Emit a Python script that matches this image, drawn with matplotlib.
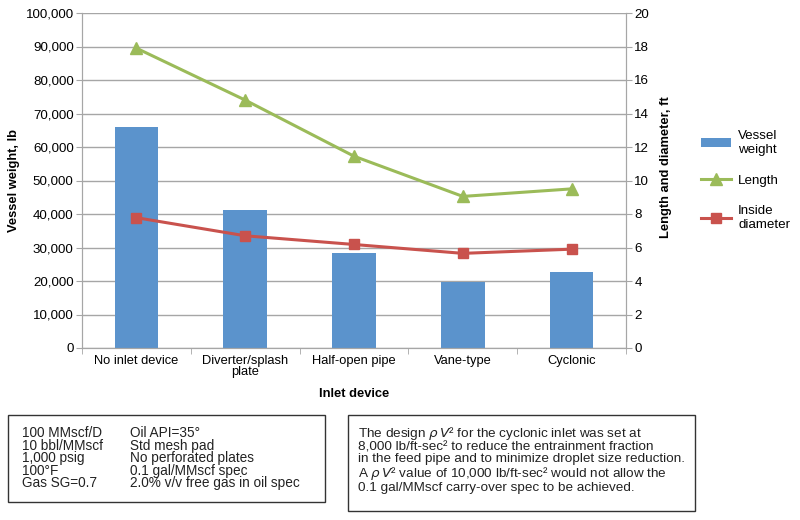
import numpy as np
import matplotlib.pyplot as plt
from matplotlib.patches import Rectangle

plt.rcParams['font.family'] = ['Liberation Sans', 'DejaVu Sans']

# --------------------------
# Data
# --------------------------
devices = ['No inlet device', 'Diverter/splash\nplate', 'Half-open pipe', 'Vane-type', 'Cyclonic']
vessel_weight = [66000, 41200, 28500, 19800, 22700]   # lb
length_ft = [17.9, 14.8, 11.45, 9.05, 9.5]            # ft
diameter_ft = [7.78, 6.7, 6.18, 5.65, 5.9]            # ft

left_col1 = ['100 MMscf/D', '10 bbl/MMscf', '1,000 psig', '100°F', 'Gas SG=0.7']
left_col2 = ['Oil API=35°', 'Std mesh pad', 'No perforated plates',
             '0.1 gal/MMscf spec', '2.0% v/v free gas in oil spec']
right_notes = ['The design $\\rho\\,V$² for the cyclonic inlet was set at',
               '8,000 lb/ft-sec² to reduce the entrainment fraction',
               'in the feed pipe and to minimize droplet size reduction.',
               'A $\\rho\\,V$² value of 10,000 lb/ft-sec² would not allow the',
               '0.1 gal/MMscf carry-over spec to be achieved.']

blue = '#5B93CC'
green = '#9BBB59'
red = '#C9524D'
grid_c = '#A6A6A6'

fig = plt.figure(figsize=(8, 5.2), dpi=100)
ax = fig.add_axes([82 / 800, 1 - 348 / 520, 544 / 800, 335 / 520])
ax2 = ax.twinx()

x = np.arange(len(devices))
bars = ax.bar(x, vessel_weight, width=0.4, color=blue, label='Vessel\nweight', zorder=2)
ln1, = ax2.plot(x, length_ft, color=green, lw=2.2, marker='^', ms=8, label='Length')
ln2, = ax2.plot(x, diameter_ft, color=red, lw=2.2, marker='s', ms=7, label='Inside\ndiameter')

ax.set_xlim(-0.5, len(devices) - 0.5)
ax.set_ylim(0, 100000)
ax2.set_ylim(0, 20)
ax.set_yticks(np.arange(0, 100001, 10000))
ax.set_yticklabels([f'{v:,}' for v in range(0, 100001, 10000)])
ax2.set_yticks(np.arange(0, 21, 2))
ax.yaxis.grid(True, color=grid_c, lw=1.0, zorder=0)
ax.set_axisbelow(True)

ax.set_xticks(x)
ax.set_xticklabels(devices, fontsize=9.3, linespacing=0.95)
ax.set_xticks(np.arange(-0.5, len(devices), 1), minor=True)
ax.tick_params(axis='x', which='major', length=0, pad=5)
ax.tick_params(axis='x', which='minor', length=4, color=grid_c)
ax.tick_params(axis='y', labelsize=9.6, length=4, color=grid_c, pad=2)
ax2.tick_params(axis='y', labelsize=9.6, length=4, color=grid_c, pad=2)

for a in (ax, ax2):
    a.spines['top'].set_visible(False)
    for s in ('left', 'right', 'bottom'):
        a.spines[s].set_color(grid_c)

ax.set_ylabel('Vessel weight, lb', fontsize=9.3, fontweight='bold', labelpad=4)
ax2.set_ylabel('Length and diameter, ft', fontsize=9.3, fontweight='bold')
ax2.yaxis.set_label_coords(1.062, 0.54)
ax.set_xlabel('Inlet device', fontsize=9.3, fontweight='bold', labelpad=7)

ax.legend([bars, ln1, ln2], ['Vessel\nweight', 'Length', 'Inside\ndiameter'],
          loc='center left', bbox_to_anchor=(1.125, 0.5), frameon=False,
          fontsize=9.6, labelspacing=1.4, handlelength=2.3, handletextpad=0.5,
          borderpad=0)

# --------------------------
# Note boxes below the chart
# --------------------------
W, H = 800, 520
fig.patches.append(Rectangle((8 / W, 1 - 502 / H), 317 / W, 87 / H, transform=fig.transFigure,
                             fill=False, ec='#333333', lw=1.0))
fig.patches.append(Rectangle((348 / W, 1 - 511 / H), 347 / W, 96 / H, transform=fig.transFigure,
                             fill=False, ec='#333333', lw=1.0))

fig.text(22 / W, 1 - 426 / H, '\n'.join(left_col1), fontsize=9.8, va='top',
         color='#222222', linespacing=0.87)
fig.text(130 / W, 1 - 426 / H, '\n'.join(left_col2), fontsize=9.8, va='top',
         color='#222222', linespacing=0.87)
fig.text(358 / W, 1 - 425 / H, '\n'.join(right_notes), fontsize=9.7, va='top',
         color='#222222', linespacing=0.97)

fig.savefig('out.png', dpi=100)
